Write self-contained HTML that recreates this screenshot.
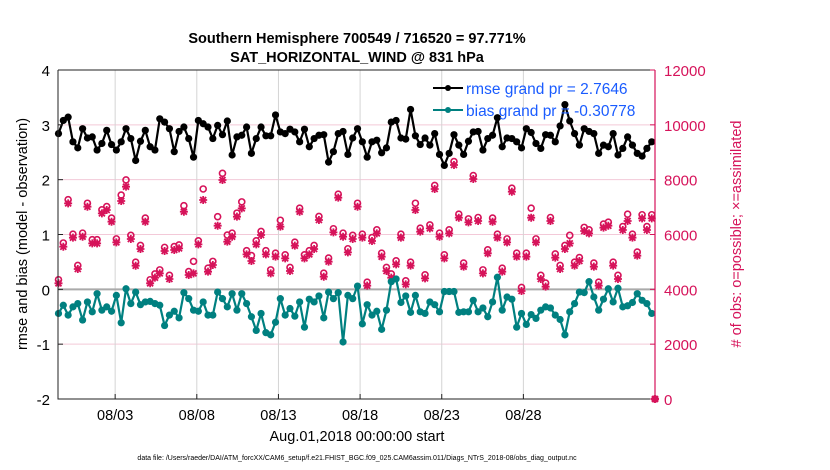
<!DOCTYPE html>
<html><head><meta charset="utf-8"><style>
html,body{margin:0;padding:0;background:#fff;}
svg{display:block;font-family:"Liberation Sans",sans-serif;}
</style></head><body>
<svg id="chart" width="830" height="470" viewBox="0 0 830 470" xmlns="http://www.w3.org/2000/svg">
<rect width="830" height="470" fill="#fff"/>
<text x="357" y="43" text-anchor="middle" font-size="14.5" font-weight="bold">Southern Hemisphere 700549 / 716520 = 97.771%</text>
<text x="357" y="62" text-anchor="middle" font-size="14.5" font-weight="bold">SAT_HORIZONTAL_WIND @ 831 hPa</text>
<g id="grid"></g>
<g id="marks"></g>
<g id="axes"></g>
<text x="357" y="441" text-anchor="middle" font-size="14.5">Aug.01,2018 00:00:00 start</text>
<text x="357" y="460" text-anchor="middle" font-size="7">data file: /Users/raeder/DAI/ATM_forcXX/CAM6_setup/f.e21.FHIST_BGC.f09_025.CAM6assim.011/Diags_NTrS_2018-08/obs_diag_output.nc</text>
<text transform="translate(27,234) rotate(-90)" text-anchor="middle" font-size="14.5">rmse and bias (model - observation)</text>
<text transform="translate(741,234) rotate(-90)" text-anchor="middle" font-size="14.5" fill="#d6135a">#  of obs: o=possible; ×=assimilated</text>
<g>
<line x1="433" y1="88" x2="463" y2="88" stroke="#000" stroke-width="2"/><circle cx="448" cy="88" r="3" fill="#000"/>
<text x="466" y="94" font-size="15.5" fill="#1a5cff">rmse grand pr = 2.7646</text>
<line x1="433" y1="110" x2="463" y2="110" stroke="#008080" stroke-width="2"/><circle cx="448" cy="110" r="3" fill="#008080"/>
<text x="466" y="116" font-size="15.5" fill="#1a5cff">bias grand pr = -0.30778</text>
</g>
</svg>
<script>
const rmse=[2.84,3.08,3.14,2.69,2.58,2.93,2.76,2.78,2.54,2.66,2.90,2.64,2.54,2.69,2.93,2.75,2.35,2.70,2.90,2.60,2.54,3.11,3.05,2.93,2.51,2.88,2.96,2.75,2.41,3.08,3.02,2.96,
2.75,2.99,2.82,3.07,2.45,2.78,2.81,2.96,2.48,2.75,2.96,2.80,2.80,3.18,2.87,2.84,2.92,2.87,2.69,2.92,2.60,2.75,2.81,2.82,2.32,2.51,2.84,2.88,2.46,2.76,2.93,
2.69,2.41,2.69,2.72,2.49,2.58,3.05,3.08,2.76,2.74,3.28,2.80,2.64,2.76,2.63,2.84,2.46,2.26,2.48,2.82,2.63,2.46,2.70,2.87,2.88,2.54,2.75,2.81,3.13,2.60,2.76,
2.75,2.69,2.58,2.93,2.86,2.66,2.57,2.82,2.81,2.69,2.98,3.37,3.07,2.84,2.63,2.93,2.88,2.84,2.48,2.63,2.60,2.84,2.45,2.57,2.78,2.63,2.48,2.43,2.57,2.69];
const bias=[-0.44,-0.29,-0.47,-0.32,-0.26,-0.56,-0.23,-0.41,-0.08,-0.38,-0.32,-0.40,-0.11,-0.61,0.01,-0.26,-0.05,-0.28,-0.23,-0.22,-0.26,-0.29,-0.66,-0.47,-0.40,-0.52,-0.06,-0.17,-0.38,-0.40,-0.23,-0.47,
-0.47,-0.05,-0.17,-0.32,-0.08,-0.38,-0.08,-0.26,-0.50,-0.75,-0.44,-0.79,-0.83,-0.60,-0.17,-0.47,-0.35,-0.49,-0.23,-0.69,-0.18,-0.23,-0.12,-0.52,-0.05,-0.17,-0.06,-0.96,-0.11,-0.17,0.06,
-0.63,-0.28,-0.47,-0.40,-0.73,-0.38,0.14,0.19,-0.24,-0.12,-0.42,-0.11,-0.41,-0.44,-0.23,-0.28,-0.41,-0.04,-0.04,-0.04,-0.42,-0.41,-0.41,-0.20,-0.41,-0.34,-0.50,-0.23,0.22,-0.38,-0.14,
-0.18,-0.69,-0.44,-0.64,-0.46,-0.53,-0.38,-0.32,-0.34,-0.47,-0.55,-0.83,-0.41,-0.26,-0.05,-0.06,0.14,-0.14,-0.38,-0.18,0.01,-0.23,0.02,-0.32,-0.30,-0.24,-0.08,-0.20,-0.26,-0.44];
const assimilated=[4220,5555,7136,5884,4741,5920,7014,5677,5677,6771,6893,6467,5714,7221,7744,5835,4862,5470,6467,4220,4425,4583,5398,4376,5434,5495,6832,4522,4583,5640,7258,4644,
4887,6321,7987,5738,5920,6650,6954,5276,5033,5640,5981,5276,4583,5191,6285,5130,4668,5592,6832,5130,5276,5470,6528,4461,5009,6078,7343,5920,5349,5835,7014,
5884,4133,5762,6042,5191,4668,4425,4911,5884,4182,4863,6893,6103,4400,6224,7659,5920,5130,6042,8534,6613,4826,6443,8023,6492,4583,5313,6467,5884,4644,5713,
7561,5191,3939,5191,6613,5713,4376,4097,6492,5155,4741,5470,5677,4863,5033,6127,6042,4826,4133,6249,6321,4863,4376,6163,6492,5884,5228,6589,6163,6589];
const possible=[4350,5690,7270,6010,4870,6050,7140,5810,5810,6900,7020,6600,5840,7440,7990,5970,4990,5600,6600,4350,4560,4710,5530,4510,5560,5620,7050,4650,5020,5770,7660,4770,
5020,6650,8230,5980,6050,6780,7190,5410,5230,5770,6110,5410,4710,5320,6520,5260,4800,5720,6960,5260,5410,5600,6660,4590,5140,6210,7470,6050,5480,5970,7140,
6010,4260,5890,6170,5320,4800,4560,5040,6010,4310,4990,7140,6230,4530,6350,7790,6050,5260,6170,8660,6740,4960,6570,8150,6620,4710,5440,6600,6010,4770,5840,
7690,5320,4070,5320,6960,5840,4510,4230,6620,5290,4870,5600,5970,4990,5160,6260,6170,4960,4260,6380,6450,4990,4510,6290,6740,6010,5360,6720,6290,6720];
const xTickDays=[2,7,12,17,22,27];
const xTickLabels=["08/03","08/08","08/13","08/18","08/23","08/28"];
const leftTicks=[-2,-1,0,1,2,3,4];
const rightTicks=[0,2000,4000,6000,8000,10000,12000];
const tStart=-1.47, tEnd=34.86;

const L=58,R=655,T=70,B=399;
const dMin=-1.5,dMax=35.06;
const X=d=>L+(d-dMin)/(dMax-dMin)*(R-L);
const YL=v=>B-(v-(-2))/6*(B-T);
const YR=v=>B-v/12000*(B-T);
const NS="http://www.w3.org/2000/svg";
function mk(tag,attrs,parent){const e=document.createElementNS(NS,tag);for(const k in attrs)e.setAttribute(k,attrs[k]);parent.appendChild(e);return e;}
const grid=document.getElementById('grid'),marks=document.getElementById('marks'),axes=document.getElementById('axes');
const n=rmse.length;
const tAt=i=>tStart+i*(tEnd-tStart)/(n-1);

// grid
rightTicks.forEach(v=>{const g=mk('line',{x1:L,x2:R,y1:YR(v),y2:YR(v),stroke:'#f3c9d8','stroke-width':1},grid);

});
xTickDays.forEach(d=>{const g=mk('line',{x1:X(d),x2:X(d),y1:T,y2:B,stroke:'#d4d4d4','stroke-width':1},grid);

});
const z=mk('line',{x1:L,x2:R,y1:YL(0),y2:YL(0),stroke:'#aaa','stroke-width':2},grid);



// obs
const pink='#d6135a';
for(let i=0;i<n;i++){
  const x=X(tAt(i));
  const c=mk('circle',{cx:x,cy:YR(possible[i]),r:3,fill:'none',stroke:pink,'stroke-width':1.6},marks);
  
  
  const y=YR(assimilated[i]);
  const s=mk('path',{d:`M${x-4},${y}H${x+4}M${x},${y-4}V${y+4}M${x-3},${y-3}L${x+3},${y+3}M${x-3},${y+3}L${x+3},${y-3}`,stroke:pink,'stroke-width':1.8},marks);
  
  
}
// final zero-count point
{const x=R,y=YR(0);
const c=mk('circle',{cx:x,cy:y,r:3,fill:'none',stroke:pink,'stroke-width':1.6},marks);


const s=mk('path',{d:`M${x-4},${y}H${x+4}M${x},${y-4}V${y+4}M${x-3},${y-3}L${x+3},${y+3}M${x-3},${y+3}L${x+3},${y-3}`,stroke:pink,'stroke-width':1.8},marks);

}

function series(vals,color,name){
  const pts=vals.map((v,i)=>[X(tAt(i)),YL(v)]);
  const p=mk('polyline',{points:pts.map(p=>p.join(',')).join(' '),fill:'none',stroke:color,'stroke-width':2.2,'stroke-linejoin':'round'},marks);
  
  
  pts.forEach(q=>{const c=mk('circle',{cx:q[0],cy:q[1],r:3.6,fill:color},marks);
  
  });
}
series(bias,'#008080','bias');
series(rmse,'#000','rmse');

// axes
const ax=mk('path',{d:`M${L},${T}V${B}H${R}M${L},${T}H${R}`,stroke:'#222',fill:'none','stroke-width':1},axes);


const ar=mk('line',{x1:R,x2:R,y1:T,y2:B,stroke:pink,'stroke-width':1.2},axes);


leftTicks.forEach(v=>{const y=YL(v);
  mk('line',{x1:L,x2:L+5,y1:y,y2:y,stroke:'#222'},axes);
  const t=mk('text',{x:L-8,y:y+6,'text-anchor':'end','font-size':15},axes);t.textContent=v;
  
  });
rightTicks.forEach(v=>{const y=YR(v);
  mk('line',{x1:R-5,x2:R,y1:y,y2:y,stroke:pink},axes);
  const t=mk('text',{x:R+9,y:y+6,'font-size':15,fill:pink},axes);t.textContent=v;
  
  });
xTickDays.forEach((d,i)=>{const x=X(d);
  mk('line',{x1:x,x2:x,y1:B,y2:B-5,stroke:'#222'},axes);
  const t=mk('text',{x:x,y:B+21,'text-anchor':'middle','font-size':14.5},axes);t.textContent=xTickLabels[i];
  
  });
</script>
</body></html>
